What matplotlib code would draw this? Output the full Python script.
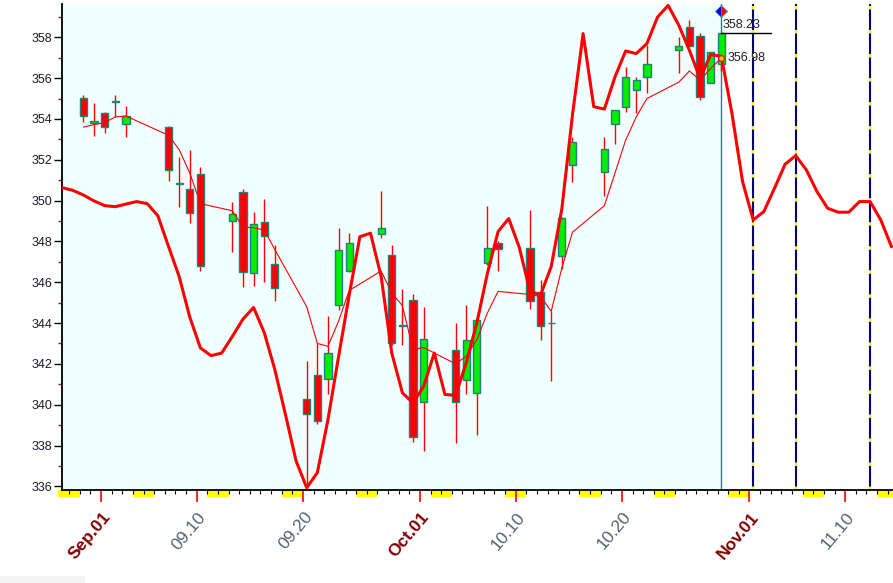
import numpy as np
import pandas as pd
import matplotlib
matplotlib.use("Agg")
from matplotlib import pyplot as plt
from matplotlib.patches import Rectangle

plt.rcParams['font.family'] = ['Liberation Sans', 'DejaVu Sans']
plt.rcParams['lines.scale_dashes'] = False

# daily candles
dates = ['2021-08-30', '2021-08-31', '2021-09-01', '2021-09-02', '2021-09-03',
         '2021-09-07', '2021-09-08', '2021-09-09', '2021-09-10',
         '2021-09-13', '2021-09-14', '2021-09-15', '2021-09-16', '2021-09-17',
         '2021-09-20', '2021-09-21', '2021-09-22', '2021-09-23', '2021-09-24',
         '2021-09-27', '2021-09-28', '2021-09-29', '2021-09-30', '2021-10-01',
         '2021-10-04', '2021-10-05', '2021-10-06', '2021-10-07', '2021-10-08',
         '2021-10-11', '2021-10-12', '2021-10-13', '2021-10-14', '2021-10-15',
         '2021-10-18', '2021-10-19', '2021-10-20', '2021-10-21', '2021-10-22',
         '2021-10-25', '2021-10-26', '2021-10-27', '2021-10-28', '2021-10-29']
opens = [355.03, 353.82, 354.27, 354.82, 353.73,
         353.61, 350.83, 350.55, 351.29,
         349.00, 350.40, 346.47, 348.94, 346.90,
         340.28, 341.47, 341.26, 344.86, 346.57,
         348.35, 347.34, 343.85, 345.12, 340.14,
         342.67, 341.19, 340.58, 346.93, 347.94,
         347.67, 345.52, 343.98, 347.29, 351.74,
         351.38, 353.73, 354.56, 355.44, 356.03,
         357.40, 358.50, 358.06, 355.78, 356.71]
highs = [355.16, 354.76, 354.35, 355.16, 354.63,
         353.65, 352.15, 352.47, 351.66,
         349.95, 350.57, 349.46, 350.08, 347.83,
         342.16, 343.02, 344.36, 348.68, 348.43,
         350.47, 347.83, 345.67, 345.42, 344.78,
         344.00, 344.90, 344.30, 349.75, 348.00,
         349.54, 346.12, 344.60, 349.20, 353.10,
         353.10, 354.46, 356.52, 356.03, 357.61,
         358.02, 358.83, 358.23, 357.28, 358.23]
lows = [353.86, 353.17, 353.29, 354.07, 353.10,
        350.97, 349.67, 348.92, 346.57,
        347.50, 345.76, 345.79, 346.03, 345.06,
        336.00, 339.03, 340.50, 344.65, 346.50,
        348.19, 342.90, 342.94, 338.16, 337.72,
        338.13, 340.50, 338.51, 346.85, 346.57,
        344.68, 343.18, 341.15, 346.64, 350.93,
        350.24, 352.77, 354.35, 354.30, 355.28,
        356.25, 357.56, 354.95, 355.74, 356.34]
closes = [354.12, 353.90, 353.58, 354.86, 354.14,
          351.50, 350.87, 349.38, 346.80,
          349.33, 346.52, 348.84, 348.24, 345.71,
          339.52, 339.19, 342.53, 347.58, 347.91,
          348.65, 343.02, 343.89, 338.44, 343.22,
          340.14, 343.15, 344.13, 347.67, 347.62,
          345.10, 343.87, 344.02, 349.13, 352.85,
          352.52, 354.46, 356.03, 355.93, 356.71,
          357.56, 357.56, 355.05, 357.28, 358.23]
avg_line = [353.60, 353.72, 353.82, 354.10, 354.14,
            353.20, 352.50, 351.35, 349.85,
            349.50, 348.70, 348.67, 348.56, 347.60,
            344.80, 343.00, 342.86, 344.10, 345.60,
            346.55, 345.47, 344.85, 342.70, 342.80,
            342.00, 342.37, 343.18, 344.50, 345.55,
            345.40, 345.30, 344.57, 346.70, 348.45,
            349.75, 351.35, 352.96, 354.10, 355.00,
            355.80, 356.35, 355.90, 356.47, 356.98]

# projection line, one value per calendar day starting 2021-08-28
proj_start = '2021-08-28'
proj_values = [350.63, 350.50, 350.27, 349.98, 349.75, 349.70, 349.83, 349.95, 349.85, 349.25,
               347.75, 346.28, 344.29, 342.78, 342.40, 342.53, 343.34, 344.19, 344.76, 343.54,
               341.72, 339.52, 337.24, 335.93, 336.67, 339.27, 342.37, 345.38, 348.23, 348.40,
               346.28, 342.53, 340.58, 340.09, 340.90, 342.53, 340.50, 340.46, 342.04, 344.00,
               346.44, 348.48, 349.12, 347.70, 345.55, 345.38, 346.77, 349.60, 354.20, 358.18,
               354.60, 354.48, 356.06, 357.33, 357.20, 357.69, 358.99, 359.56, 358.59, 357.36,
               355.98, 357.15, 357.07, 354.27, 350.93, 349.05, 349.46, 350.60, 351.78, 352.20,
               351.50, 350.44, 349.62, 349.43, 349.43, 349.95, 349.95, 349.05, 347.75]

cycle_dates = ['2021-11-01', '2021-11-05', '2021-11-12']
label_dates = ['2021-09-01', '2021-09-10', '2021-09-20', '2021-10-01',
               '2021-10-10', '2021-10-20', '2021-11-01', '2021-11-10']
label_texts = ['Sep.01', '09.10', '09.20', 'Oct.01', '10.10', '10.20', 'Nov.01', '11.10']

origin = pd.Timestamp('2021-09-01')
offset = 0.35  # candles sit a little right of the day tick

def day_num(d):
    return np.asarray((pd.to_datetime(d) - origin).days, dtype=float)

xs = day_num(dates) + offset
proj_x = day_num(pd.date_range(proj_start, periods=len(proj_values), freq='D')) + offset
last_x = xs[-1]

fig = plt.figure(figsize=(8.93, 5.83), dpi=100)
ax = fig.add_axes([62/893, 93/583, 831/893, 486/583])
xmin, xmax = -3.67, 74.5
ax.set_xlim(xmin, xmax)
ax.set_ylim(335.82, 359.63)
ax.set_facecolor('white')
ax.axvspan(xmin, last_x, color='#f0ffff', zorder=0, lw=0)

# cycle lines
for d in cycle_dates:
    x = day_num([d])[0] + offset
    ax.axvline(x, color='#000080', lw=1.5, zorder=1)
    ax.axvline(x, color='yellow', lw=1.5, dashes=(2.5, 14.8), zorder=1.1)
ax.axvline(last_x, color='#2a7f7f', lw=1, zorder=1)

# candles
for x, o, h, l, c in zip(xs, opens, highs, lows, closes):
    ax.vlines(x, l, h, color='red', lw=1, zorder=3)
    face = '#00ee00' if c >= o else '#ff0000'
    ax.add_patch(Rectangle((x - 0.34, min(o, c)), 0.68, max(abs(c - o), 0.04),
                           facecolor=face, edgecolor='#1f8080', lw=1, zorder=4))

ax.plot(xs, avg_line, color='red', lw=0.8, zorder=5)
ax.plot(proj_x, proj_values, color='red', lw=2.2, zorder=6)

# last bar markers
ax.plot(last_x, 359.27, marker='D', ms=6, fillstyle='left', markerfacecolor='blue',
        markerfacecoloralt='red', markeredgecolor='#4a8a8a', mew=0.6, clip_on=False, zorder=8)
ax.plot(last_x, avg_line[-1], 'o', ms=4, mfc='#ffcc00', mec='red', mew=0.8, zorder=8)
ax.plot([last_x, 63.0], [closes[-1], closes[-1]], color='black', lw=1, zorder=7)
ax.text(last_x + 0.1, 358.62, f"{closes[-1]:.2f}", fontsize=9, color='#222222',
        ha='left', va='center', zorder=8)
ax.text(last_x + 0.6, avg_line[-1], f"{avg_line[-1]:.2f}", fontsize=9, color='#222222',
        ha='left', va='center', zorder=8)

# axes styling
for s in ['top', 'right']:
    ax.spines[s].set_visible(False)
ax.spines['left'].set_linewidth(1.3)
ax.spines['bottom'].set_linewidth(1.3)

ax.set_yticks(np.arange(336, 360, 2))
ax.set_yticks(np.arange(337, 360, 2), minor=True)
ax.tick_params(axis='y', which='major', length=5.8, width=1, color='black',
               labelsize=9, labelcolor='#1c1c2c', pad=1)
ax.tick_params(axis='y', which='minor', length=3.2, width=1, color='#8b1a1a')

lab_x = day_num(label_dates)
ax.set_xticks(lab_x)
ax.set_xticks(np.arange(-3, 75), minor=True)
ax.set_xticklabels([])
ax.tick_params(axis='x', which='major', length=8.6, width=1.2, color='red')
ax.tick_params(axis='x', which='minor', length=3.2, width=0.8, color='black')

# weekend blocks under the axis
trans = ax.get_xaxis_transform()
all_days = pd.date_range('2021-08-27', '2021-11-15', freq='D')
for day in all_days[all_days.dayofweek == 5]:
    d = day_num([day])[0]
    ax.add_patch(Rectangle((d, -7/486), 2, 7/486, transform=trans, facecolor='#ffff00',
                           lw=0, clip_on=False, zorder=1))

for d, txt in zip(lab_x, label_texts):
    month = txt[0].isalpha()
    ax.annotate(txt, xy=(d, 0), xycoords=trans, xytext=(0.5, -14), textcoords='offset points',
                rotation=50, rotation_mode='anchor', ha='right', va='top', fontsize=12.5,
                fontweight='bold' if month else 'normal',
                color='#800000' if month else '#56606a', annotation_clip=False)

fig.add_artist(Rectangle((0, 0), 85/893, 7/583, transform=fig.transFigure,
                         facecolor='#f3f3f3', lw=0))

fig.savefig('out.png', dpi=100)
